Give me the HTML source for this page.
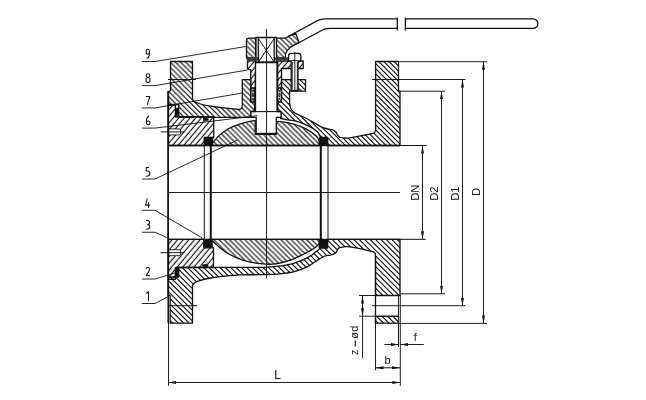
<!DOCTYPE html>
<html><head><meta charset="utf-8">
<style>
html,body{margin:0;padding:0;background:#fff;width:646px;height:400px;overflow:hidden}
svg{display:block;will-change:transform}
text{font-family:"Liberation Sans",sans-serif;fill:#111}
</style></head>
<body>
<svg width="646" height="400" viewBox="0 0 646 400">
<defs>
<pattern id="hb" patternUnits="userSpaceOnUse" x="0" y="0" width="51.500" height="51.500">
<path d="M-58.650,-2 L-3.150,53.500 M-53.500,-2 L2.000,53.500 M-48.350,-2 L7.150,53.500 M-43.200,-2 L12.300,53.500 M-38.050,-2 L17.450,53.500 M-32.900,-2 L22.600,53.500 M-27.750,-2 L27.750,53.500 M-22.600,-2 L32.900,53.500 M-17.450,-2 L38.050,53.500 M-12.300,-2 L43.200,53.500 M-7.150,-2 L48.350,53.500 M-2.000,-2 L53.500,53.500 M3.150,-2 L58.650,53.500 M8.300,-2 L63.800,53.500 M13.450,-2 L68.950,53.500 M18.600,-2 L74.100,53.500 M23.750,-2 L79.250,53.500 M28.900,-2 L84.400,53.500 M34.050,-2 L89.550,53.500 M39.200,-2 L94.700,53.500 M44.350,-2 L99.850,53.500 M49.500,-2 L105.000,53.500 M54.650,-2 L110.150,53.500" stroke="#111" stroke-width="1.15"/>
</pattern>
<pattern id="hf" patternUnits="userSpaceOnUse" width="4.3" height="20" patternTransform="rotate(40)">
<rect x="1.5" y="-1" width="1.15" height="22" fill="#111"/>
</pattern>
<pattern id="hbR" patternUnits="userSpaceOnUse" x="1.0" y="0" width="51.000" height="51.000">
<path d="M-58.100,-2 L-3.100,53.000 M-53.000,-2 L2.000,53.000 M-47.900,-2 L7.100,53.000 M-42.800,-2 L12.200,53.000 M-37.700,-2 L17.300,53.000 M-32.600,-2 L22.400,53.000 M-27.500,-2 L27.500,53.000 M-22.400,-2 L32.600,53.000 M-17.300,-2 L37.700,53.000 M-12.200,-2 L42.800,53.000 M-7.100,-2 L47.900,53.000 M-2.000,-2 L53.000,53.000 M3.100,-2 L58.100,53.000 M8.200,-2 L63.200,53.000 M13.300,-2 L68.300,53.000 M18.400,-2 L73.400,53.000 M23.500,-2 L78.500,53.000 M28.600,-2 L83.600,53.000 M33.700,-2 L88.700,53.000 M38.800,-2 L93.800,53.000 M43.900,-2 L98.900,53.000 M49.000,-2 L104.000,53.000 M54.100,-2 L109.100,53.000" stroke="#111" stroke-width="1.15"/>
</pattern>
<pattern id="hbL" patternUnits="userSpaceOnUse" x="1.0" y="0" width="54.000" height="54.000">
<path d="M-61.400,-2 L-3.400,56.000 M-56.000,-2 L2.000,56.000 M-50.600,-2 L7.400,56.000 M-45.200,-2 L12.800,56.000 M-39.800,-2 L18.200,56.000 M-34.400,-2 L23.600,56.000 M-29.000,-2 L29.000,56.000 M-23.600,-2 L34.400,56.000 M-18.200,-2 L39.800,56.000 M-12.800,-2 L45.200,56.000 M-7.400,-2 L50.600,56.000 M-2.000,-2 L56.000,56.000 M3.400,-2 L61.400,56.000 M8.800,-2 L66.800,56.000 M14.200,-2 L72.200,56.000 M19.600,-2 L77.600,56.000 M25.000,-2 L83.000,56.000 M30.400,-2 L88.400,56.000 M35.800,-2 L93.800,56.000 M41.200,-2 L99.200,56.000 M46.600,-2 L104.600,56.000 M52.000,-2 L110.000,56.000 M57.400,-2 L115.400,56.000" stroke="#111" stroke-width="1.15"/>
</pattern>
<marker id="ah" viewBox="0 0 8 3" refX="8" refY="1.5" markerWidth="8" markerHeight="3" markerUnits="userSpaceOnUse" orient="auto-start-reverse">
<path d="M0,0 L8,1.5 L0,3 Z" fill="#111"/>
</marker>
</defs>

<g stroke="#111" stroke-width="1.3" stroke-linejoin="round">
<!-- BODY upper-left -->
<path fill="url(#hb)" d="M170.5,61.5 H192.5 V99.5 C194.5,104.5 215,107.5 238.6,109.4 Q242.3,109.4 242.3,105.5 V79.7 H250.7 V102 H254.6 V111.5 H251 V117.3 H178.7 V104.5 H168.5 V92.3 L170.5,90.3 Z"/>
<!-- BODY upper-right -->
<path fill="url(#hbR)" d="M277.7,102 H281.5 V79.7 H305.5 V91.2 H289.6 V103.5 C289.80,104.33 290.15,107.08 290.80,108.50 C291.45,109.92 292.47,111.05 293.50,112.00 C294.53,112.95 295.13,113.28 297.00,114.20 C298.87,115.12 301.95,116.13 304.70,117.50 C307.45,118.87 310.75,120.85 313.50,122.40 C316.25,123.95 318.82,125.70 321.20,126.80 C323.58,127.90 325.95,128.52 327.80,129.00 C329.65,129.48 331.00,129.23 332.30,129.70 C333.60,130.17 334.68,130.85 335.60,131.80 C336.52,132.75 337.03,134.45 337.80,135.40 C338.57,136.35 338.83,137.07 340.20,137.50 C341.57,137.93 344.37,137.95 346.00,138.00 C347.63,138.05 345.42,138.58 350.00,137.80 C354.58,137.02 369.58,134.05 373.50,133.30 Q375.6,132.5 375.6,130 V61.5 H398.5 V91.2 H400 V145.5 H327.6 V137.5 H320.5 C320.18,136.83 319.22,134.55 318.60,133.50 C317.98,132.45 318.57,132.50 316.80,131.20 C315.03,129.90 311.30,127.35 308.00,125.70 C304.70,124.05 300.67,122.30 297.00,121.30 C293.33,120.30 288.75,120.17 286.00,119.70 C283.25,119.23 281.42,118.70 280.50,118.50 V111.5 H277.7 Z"/>
<!-- BODY lower -->
<path fill="url(#hbL)" d="M170.2,323.2 H192.5 V285.1 C194.5,280.1 215,276.5 240,274.9 C243.33,274.85 254.17,274.68 260.00,274.60 C265.83,274.52 270.67,274.63 275.00,274.40 C279.33,274.17 282.50,273.73 286.00,273.20 C289.50,272.67 292.33,272.33 296.00,271.20 C299.67,270.07 304.42,268.23 308.00,266.40 C311.58,264.57 314.67,261.93 317.50,260.20 C320.33,258.47 322.88,256.85 325.00,256.00 C327.12,255.15 328.67,255.50 330.25,255.10 C331.83,254.70 333.38,254.28 334.50,253.60 C335.62,252.92 336.37,251.87 337.00,251.00 C337.63,250.13 337.63,249.02 338.30,248.40 C338.97,247.78 339.05,247.55 341.00,247.30 C342.95,247.05 344.83,246.23 350.00,246.90 C355.17,247.57 368.33,250.57 372.00,251.30 Q375.5,252 375.5,255 V295.5 H400 V239.3 H327.6 V248 H320 C319.60,248.83 318.93,249.42 317.60,250.50 C316.27,251.58 314.27,253.53 312.00,255.00 C309.73,256.47 307.33,257.83 304.00,259.30 C300.67,260.77 296.67,262.62 292.00,263.80 C287.33,264.98 280.67,265.82 276.00,266.40 C271.33,266.98 268.33,267.13 264.00,267.30 C259.67,267.47 252.33,267.38 250.00,267.40 H178.7 V277 H168.5 V294.4 L170.2,296 Z"/>
<path fill="url(#hbL)" d="M375.5,316.3 H398.5 V323.2 H375.5 Z"/>
<!-- INSERT -->
<path fill="url(#hf)" d="M168.5,105.3 H175.4 V116.7 H213.7 V137.5 H204.4 V145.5 H168.5 Z"/>
<path fill="url(#hf)" d="M168.5,279.3 H175.4 V267.6 H213.5 V247.8 H203.75 V239.3 H168.5 Z"/>
<!-- BALL -->
<path fill="url(#hb)" d="M210,145.5 L213.2,142.2 C214.00,141.27 215.87,138.60 218.00,136.60 C220.13,134.60 223.33,131.93 226.00,130.20 C228.67,128.47 231.33,127.33 234.00,126.20 C236.67,125.07 239.33,124.20 242.00,123.40 C244.67,122.60 247.80,121.87 250.00,121.40 C252.20,120.93 254.33,120.73 255.20,120.60 V134.3 H276.4 V121.6 C278.00,121.73 282.57,121.80 286.00,122.40 C289.43,123.00 293.33,123.92 297.00,125.20 C300.67,126.48 304.88,128.37 308.00,130.10 C311.12,131.83 313.87,133.95 315.70,135.60 C317.53,137.25 317.95,138.35 319.00,140.00 C320.05,141.65 321.50,144.58 322.00,145.50 Z"/>
<path fill="url(#hb)" d="M210,239.3 L212.75,241.1 C213.62,241.93 215.79,244.25 218.00,246.10 C220.21,247.95 222.75,250.18 226.00,252.20 C229.25,254.22 233.50,256.55 237.50,258.20 C241.50,259.85 245.25,261.12 250.00,262.10 C254.75,263.08 261.67,263.82 266.00,264.10 C270.33,264.38 271.67,264.55 276.00,263.80 C280.33,263.05 287.33,261.23 292.00,259.60 C296.67,257.97 300.67,255.67 304.00,254.00 C307.33,252.33 309.73,251.00 312.00,249.60 C314.27,248.20 315.93,247.32 317.60,245.60 C319.27,243.88 321.27,240.35 322.00,239.30 Z"/>
<!-- HANDLE HEAD -->
<path fill="url(#hb)" d="M246.5,40.5 Q246.5,38.1 249,38.1 H255.6 V57.75 H246.5 Z"/>
<path fill="url(#hb)" d="M276.25,38.1 H283.75 Q286,38.5 288.75,36.25 L295.6,33.2 L298.9,42 L290,47.5 Q287,50 285.5,53.75 V57.75 H276.25 Z"/>
<path fill="none" d="M288.75,36.25 L317.5,20.6 Q321,18.75 326.25,18.9 H397.3 M397.3,17.4 V30.4 M397.3,28.3 H330 Q325,28.5 322.5,30 L290,47.5"/>
<path fill="none" d="M405.4,17.4 V30.4 M405.4,18.9 H533.2 A4.7,4.7 0 0 1 533.2,28.3 H405.4"/>
<!-- GLAND -->
<path fill="url(#hf)" d="M247.5,60.8 H255.5 V88 H250.75 V69.6 H248.8 Q247.5,69.6 247.5,68 Z"/>
<path fill="url(#hf)" d="M277.7,61 H303.2 V68.5 H281.5 V88 H277.7 Z"/>
<!-- STEM -->
<path fill="#fff" d="M256,37.5 H276.5 V62.5 H256 Z"/>
<path fill="#fff" d="M255.5,62.5 H277 V111.5 H281 V117.3 H276.3 V133.8 H256.2 V117.3 H251 V111.5 H255.5 Z"/>
<!-- BOLT -->
<path fill="#fff" d="M288.6,61 V55.8 Q288.6,53.3 291.1,53.3 H298.4 Q300.9,53.3 300.9,55.8 V61 Z"/>
<path fill="#fff" d="M291.2,61 V90.5 H298 V61"/>
</g>


<!-- pin holes -->
<g stroke="#111" fill="#fff">
<path stroke-width="0.9" d="M168.8,128.9 H179.2 Q180.8,128.9 180.8,131.9 Q180.8,134.9 179.2,134.9 H168.8 Z"/>
<path stroke-width="0.9" d="M168.8,249.7 H179.2 Q180.8,249.7 180.8,252.7 Q180.8,255.7 179.2,255.7 H168.8 Z"/>
<path stroke-width="1.4" fill="none" d="M168.2,91 V296"/>
</g>
<!-- flange bolt hole lines -->
<g stroke="#111" fill="none">
<path stroke-width="1.3" d="M375.5,255 V323.4"/>
</g>
<!-- black seals -->
<g fill="#111">
<rect x="246.5" y="57.3" width="11.8" height="3" fill="#3a3a3a"/><rect x="274" y="57.3" width="14" height="3" fill="#3a3a3a"/>
<rect x="203.8" y="137.6" width="9.4" height="8"/>
<rect x="318.6" y="137.5" width="9" height="8"/>
<rect x="203.75" y="239.3" width="9" height="8.5"/>
<rect x="318.6" y="239.3" width="9" height="8.6"/>
<rect x="175.4" y="107.8" width="3.3" height="9.4"/>
<rect x="175.4" y="116" width="38.3" height="1.6"/>
<rect x="203" y="117.5" width="5.5" height="3.3"/>
<rect x="175.2" y="267.5" width="3.5" height="9.5"/>
<rect x="202.3" y="264.2" width="6" height="2.6"/>
<rect x="176" y="266.7" width="37.5" height="1.4"/>
</g>

<!-- stem details -->
<g stroke="#111" fill="none">
<path stroke-width="1.3" d="M258.3,38.3 V62.2 M274.2,38.3 V62.2 M258.3,62.2 H274.2"/>
<path stroke-width="1.0" d="M258.6,38.8 L274,61.8 M274,38.8 L258.6,61.8"/>
<path stroke-width="2" d="M256.2,133.8 H276.3"/>
<path stroke-width="1.1" d="M251,111.6 H281"/>
<!-- seat lines -->
<path stroke-width="1" d="M204.3,145.5 V239.3 M328,145.5 V239.3"/>
<path stroke-width="2" d="M210.8,145.5 V239.3 M320.8,145.5 V239.3"/>
<!-- bore lines -->
<path stroke-width="1.3" d="M168.1,145.5 H400 M168.1,239.3 H400 M168.1,91 V323.1"/>
<path stroke-width="1" d="M400,145.5 H426.5 M400,239.3 H425.7"/>
<!-- packing -->
<path stroke-width="0.9" fill="#fff" d="M251.5,88.4 H254.3 L252.9,92 Z M251.5,101.6 H254.3 L252.9,98 Z M252.9,92.8 Q254.1,95 252.9,97.2 Q251.70000000000002,95 252.9,92.8 Z M278.1,88.4 H280.9 L279.5,92 Z M278.1,101.6 H280.9 L279.5,98 Z M279.5,92.8 Q280.7,95 279.5,97.2 Q278.3,95 279.5,92.8 Z"/>
<path stroke-width="1.3" d="M250.7,88 V102 M254.6,88 V102 M277.7,88 V102 M281.5,88 V102"/>
</g>

<!-- thin lines -->
<g stroke="#111" stroke-width="0.95" fill="none">
<path d="M266.5,29 V278.5"/>
<path d="M168,192.5 H400"/>
<path d="M294.8,52 V92"/>
<path stroke-width="0.7" d="M292.5,62 V89.5 M297.3,62 V89.5"/>
<path d="M168,79.5 H196 M168,305.7 H197 M160.6,131.9 H184.5 M160.6,252.7 H184.5"/>
<path d="M168.5,296 V385.7 M400.3,295 V385.8 M398.5,295.5 V347 M375.5,323.2 V370.3"/>
<path d="M398.5,61.7 H487 M372,79.5 H465.5 M400,91.2 H445"/>
<path d="M398.5,323.4 H487 M372,305.7 H465.5 M400.5,293.8 H445 M359,295.5 H376 M359,316.2 H398.5"/>
</g>
<!-- dimension lines with arrows -->
<g stroke="#111" stroke-width="0.95" fill="none" marker-start="url(#ah)" marker-end="url(#ah)">
<path d="M422.5,145.5 V239.3"/>
<path d="M441.5,91.2 V293.8"/>
<path d="M462.5,79.5 V305.7"/>
<path d="M483.5,61.7 V323.4"/>
<path d="M168.4,382.5 H400.3"/>
<path d="M375.5,367.8 H400"/>
</g>
<g stroke="#111" stroke-width="0.95" fill="none">
<path d="M362.5,295.5 V358"/>
<path stroke="none" d="M362.5,295.5 V305" marker-start="url(#ah)"/>
<path stroke="none" d="M362.5,306 V316.2" marker-end="url(#ah)"/>
<path d="M384.4,344.5 H398.5" marker-end="url(#ah)"/>
<path d="M423.8,344.5 H400" marker-end="url(#ah)"/>
</g>

<!-- leaders -->
<g stroke="#111" stroke-width="0.9" fill="none">
<path d="M141.9,61.5 H155 L246.5,46.4"/>
<path d="M141.9,85.6 H155 L247.5,70"/>
<path d="M141.9,107.9 H155 L242.5,93"/>
<path d="M141.9,128.1 H155 L257.5,115.7"/>
<path d="M141.9,179 H155 L237,140.3"/>
<path d="M141.9,210.25 H155 L202.5,238.1"/>
<path d="M141.9,232.25 H155 L168.1,238.1"/>
<path d="M141.9,279 H155 L175,273"/>
<path d="M141.9,303.5 H155 L168.75,296.25"/>
</g>

<!-- labels -->
<g stroke="#111" stroke-width="1.05" fill="none" stroke-linecap="round" stroke-linejoin="round">
<path d="M149.5,52.2 C149.6,49.8 148.6,49.3 147.6,49.3 C146.5,49.3 146.2,50.5 146.2,51.7 C146.2,53.3 146.8,54.2 147.6,54.2 C148.6,54.2 149.5,53.3 149.5,52.2 C149.5,54.5 149.4,55.6 148.6,56.9 C148.2,57.6 147.6,58 147,58.3"/>
<path d="M147.9,73.7 C146.8,73.7 146.2,74.5 146.2,75.6 C146.2,76.8 147,77.5 148,77.5 C149.1,77.5 149.8,76.8 149.8,75.6 C149.8,74.5 149.1,73.7 147.9,73.7 Z M148,77.5 C146.8,77.5 145.9,78.5 145.9,80 C145.9,81.6 146.8,82.4 147.9,82.4 C149.1,82.4 150,81.6 150,80 C150,78.5 149.2,77.5 148,77.5 Z"/>
<path d="M146.2,96.5 H149.9 C149.2,99 147.9,101.5 147.4,104.5"/>
<path d="M148.5,116.3 C147.3,117 146.5,118.5 146.4,120.5 C146.3,122.5 146.5,124.8 148,124.8 C149.4,124.8 150,123.8 150,122.8 C150,121.6 149.3,121 148.3,121 C147.3,121 146.6,121.6 146.4,122.3"/>
<path d="M148.8,167.4 H146.3 L146.2,170.7 C147.5,170.7 149.9,171.2 149.9,173.3 C149.9,175.2 148.6,176.2 146.5,176.2"/>
<path d="M147.2,198.5 L145.6,205.1 H149.8 M148.5,202.8 V207.5"/>
<path d="M146.3,220.4 C147.8,220.3 149.6,220.7 149.6,222.2 C149.6,223.6 148.5,224.4 147.5,224.5 C149,224.6 149.8,225.5 149.8,226.8 C149.8,228.4 148.5,229.3 146.3,229.3"/>
<path d="M146.3,268.6 C146.6,267.6 147.3,267.3 148,267.3 C149,267.3 149.6,268.2 149.6,269.4 C149.6,271.4 147,273.5 146.3,275.6 H149.4"/>
<path d="M146.6,293.5 L148.5,291.7 V300.5"/>
</g>
<g font-size="11">
<text transform="translate(419,200.8) rotate(-90)" font-size="11.3">DN</text>
<text transform="translate(438,200.8) rotate(-90)" font-size="11.3">D2</text>
<text transform="translate(458.5,200.8) rotate(-90)" font-size="11.3">D1</text>
<text transform="translate(479.7,196) rotate(-90)" font-size="11.3">D</text>
<text transform="translate(358.3,355) rotate(-90)" font-size="11">z</text>
<text transform="translate(358.3,338.8) rotate(-90)" font-size="11">ø</text>
<text transform="translate(358.3,331.8) rotate(-90)" font-size="11">d</text>
<path d="M355.2,340.6 V346.4" stroke="#111" stroke-width="1.1"/>
<text x="413.7" y="341.1">f</text>
<text x="384.5" y="364">b</text>
<text x="274.3" y="379.2" font-size="12">L</text>
</g>
</svg>
</body></html>
